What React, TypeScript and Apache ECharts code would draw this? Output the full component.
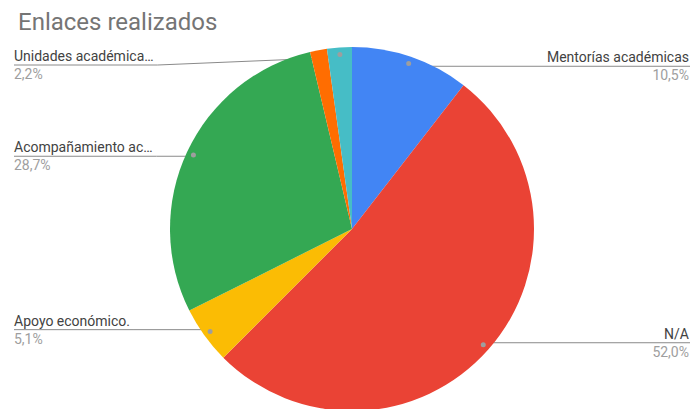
import React, { useEffect, useRef } from "react";
import * as echarts from "echarts";

const TITLE = "Enlaces realizados";
const categories = [
  "Mentorías académicas",
  "N/A",
  "Apoyo económico.",
  "Acompañamiento ac…",
  "Otros",
  "Unidades académica…",
];
const values = [10.5, 52.0, 5.1, 28.7, 1.5, 2.2];
const colors = ["#4285F4", "#EA4335", "#FBBC04", "#34A853", "#FF6D01", "#46BDC6"];
const hiddenLabels = ["Otros"];

const W = 690;
const H = 409;
const CX = 352;
const CY = 229;
const R = 182;
const DOT_R = 172;
const LEFT_X = 14;
const RIGHT_X = 689;
const MIN_LABEL_Y = 65;

const fmt = (v: number) => v.toFixed(1).replace(".", ",") + "%";

export default function App() {
  const ref = useRef<HTMLDivElement>(null);
  useEffect(() => {
    if (!ref.current) return;
    const chart = echarts.init(ref.current, undefined, { renderer: "svg" });
    const data = categories.map((name, i) => {
      const hide = hiddenLabels.includes(name);
      return {
        name,
        value: values[i],
        itemStyle: { color: colors[i] },
        label: hide ? { show: false } : undefined,
        labelLine: hide ? { show: false } : undefined,
      };
    });
    const dotData = categories.map((name, i) => {
      const hide = hiddenLabels.includes(name);
      return {
        name,
        value: values[i],
        label: hide ? { show: false } : undefined,
      };
    });
    chart.setOption({
      animation: false,
      title: {
        text: TITLE,
        left: LEFT_X - 1,
        top: 5,
        textStyle: {
          fontFamily: "Roboto",
          fontSize: 24,
          fontWeight: "normal",
          color: "#757575",
        },
      },
      series: [
        {
          type: "pie",
          center: [CX, CY],
          radius: [0, R],
          startAngle: 90,
          clockwise: true,
          avoidLabelOverlap: false,
          silent: true,
          data,
          label: {
            show: true,
            position: "outer",
            fontFamily: "Roboto",
            formatter: (p: any) => `{n|${p.name}}\n{p|${fmt(p.value)}}`,
            rich: {
              n: { fontFamily: "Roboto", fontSize: 14, color: "#424242", lineHeight: 18 },
              p: { fontFamily: "Roboto", fontSize: 14, color: "#9e9e9e", lineHeight: 18 },
            },
          },
          labelLine: {
            show: true,
            length: 10,
            length2: 10,
            lineStyle: { color: "#8a8a8a", width: 1 },
          },
          labelLayout: (p: any) => {
            const pts = p.labelLinePoints;
            if (!pts) return {};
            const [x0, y0] = pts[0];
            const dx = x0 - CX;
            const dy = y0 - CY;
            const k = DOT_R / R;
            const dotX = CX + dx * k;
            const dotY = CY + dy * k;
            const isLeft = dx < 0;
            const ly = Math.max(dotY, MIN_LABEL_Y);
            const w = p.labelRect ? p.labelRect.width : 0;
            if (isLeft) {
              return {
                x: LEFT_X,
                y: ly,
                align: "left",
                verticalAlign: "middle",
                labelLinePoints: [
                  [dotX, dotY],
                  [Math.min(dotX, LEFT_X + w + 4), ly],
                  [LEFT_X, ly],
                ],
              };
            }
            return {
              x: RIGHT_X,
              y: ly,
              align: "right",
              verticalAlign: "middle",
              labelLinePoints: [
                [dotX, dotY],
                [dotX, ly],
                [W, ly],
              ],
            };
          },
        },
        {
          type: "pie",
          center: [CX, CY],
          radius: [DOT_R - 10, R],
          startAngle: 90,
          clockwise: true,
          silent: true,
          z: 5,
          avoidLabelOverlap: false,
          itemStyle: { color: "rgba(0,0,0,0)" },
          emphasis: { disabled: true },
          data: dotData,
          label: {
            show: true,
            position: "inside",
            formatter: "{dot|}",
            rich: {
              dot: {
                width: 5,
                height: 5,
                borderRadius: 2.5,
                backgroundColor: "#9e9e9e",
              },
            },
          },
          labelLine: { show: false },
        },
      ],
    });
    return () => chart.dispose();
  }, []);
  return (
    <div
      ref={ref}
      style={{ position: "absolute", left: 0, top: 0, width: W, height: H, background: "#fff" }}
    />
  );
}
